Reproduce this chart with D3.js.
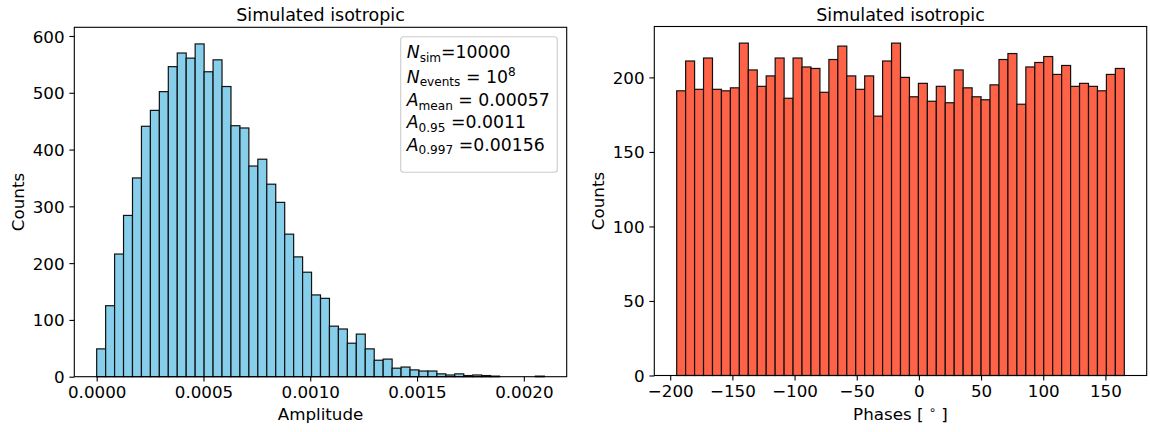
<!DOCTYPE html>
<html>
<head>
<meta charset="utf-8">
<script src="https://cdn.jsdelivr.net/npm/d3@7"></script>
<style>
  html, body { margin: 0; padding: 0; background: #fff; }
  svg { display: block; }
  text { font-family: "DejaVu Sans", sans-serif; fill: #000; }
</style>
</head>
<body>
<svg id="chart" width="1150" height="432"></svg>
<script>
// ---------------- data ----------------
const chartTitles = ["Simulated isotropic", "Simulated isotropic"];
const ampBinRange = [0, 0.002096];
const ampCounts = [49,125,216,284,350,441,469,502,546,570,
                   561,586,537,558,511,442,438,371,383,339,
                   307,251,211,184,144,138,89,84,59,75,
                   49,29,31,15,17,12,10,10,5,3,
                   5,2,3,2,1,0,0,0,0,1];
const ampXTicks = [0, 0.0005, 0.0010, 0.0015, 0.0020];
const ampXTickLabels = ["0.0000", "0.0005", "0.0010", "0.0015", "0.0020"];
const ampYTicks = [0, 100, 200, 300, 400, 500, 600];

const phaseBinRange = [-194.8, 165.2];
const phaseCounts = [191,211,192,213,192,191,193,223,205,194,
                     201,213,186,213,207,206,190,212,221,201,
                     192,201,174,211,223,200,187,196,184,194,
                     183,205,193,187,185,195,212,216,182,207,
                     210,214,202,208,194,196,194,191,202,206];
const phaseXTicks = [-200, -150, -100, -50, 0, 50, 100, 150];
const phaseYTicks = [0, 50, 100, 150, 200];

const statLines = [
  {sym: "N", sub: "sim", rest: "=10000"},
  {sym: "N", sub: "events", rest: " = 10", sup: "8"},
  {sym: "A", sub: "mean", rest: " = 0.00057"},
  {sym: "A", sub: "0.95", rest: " =0.0011"},
  {sym: "A", sub: "0.997", rest: " =0.00156"}
];

// ---------------- drawing ----------------
const svg = d3.select("#chart");
const FS = 16.7;
const LFS = 17.3;
const minus = s => String(s).replace("-", "\u2212");

function panel(cfg) {
  const {left, right, top, bottom, counts, binRange, fill, xTicks, xTickFmt, yTicks, title, xlabelNode, ylabelX} = cfg;
  const n = counts.length;
  const w = (binRange[1] - binRange[0]) / n;
  const edges = d3.range(n + 1).map(i => binRange[0] + i * w);
  const span = binRange[1] - binRange[0];
  const x = d3.scaleLinear().domain([binRange[0] - 0.05 * span, binRange[1] + 0.05 * span]).range([left, right]);
  const ymax = d3.max(counts) * 1.05;
  const y = d3.scaleLinear().domain([0, ymax]).range([bottom, top]);

  const g = svg.append("g");
  g.selectAll("rect.bar").data(counts).join("rect")
    .attr("class", "bar")
    .attr("x", (d, i) => x(edges[i]))
    .attr("width", (d, i) => x(edges[i + 1]) - x(edges[i]))
    .attr("y", d => y(d))
    .attr("height", d => y(0) - y(d))
    .attr("fill", fill)
    .attr("stroke", "#111")
    .attr("stroke-width", 1.2);

  // frame
  g.append("rect").attr("x", left).attr("y", top).attr("width", right - left).attr("height", bottom - top)
    .attr("fill", "none").attr("stroke", "#000").attr("stroke-width", 1.1);

  const xa = g.append("g").attr("transform", `translate(0,${bottom})`)
    .call(d3.axisBottom(x).tickValues(xTicks).tickFormat(xTickFmt).tickSize(4.9).tickPadding(4.9));
  const ya = g.append("g").attr("transform", `translate(${left},0)`)
    .call(d3.axisLeft(y).tickValues(yTicks).tickSize(4.9).tickPadding(4.9));
  [xa, ya].forEach(a => {
    a.select(".domain").remove();
    a.selectAll(".tick line").attr("stroke", "#000").attr("stroke-width", 1.1);
    a.selectAll(".tick text").attr("font-size", FS).attr("font-family", "DejaVu Sans").attr("fill", "#000");
  });
  xa.selectAll(".tick text").attr("dy", null).attr("y", 21.6);
  ya.selectAll(".tick text").attr("dy", "0.36em");

  g.append("text").attr("x", (left + right) / 2).attr("y", 20.7).attr("text-anchor", "middle")
    .attr("font-size", 17.5).text(title);

  g.append("text").attr("transform", `translate(${ylabelX},${(top + bottom) / 2}) rotate(-90)`)
    .attr("text-anchor", "middle").attr("font-size", 16.7).text("Counts");

  const xl = g.append("text").attr("x", (left + right) / 2).attr("y", 420).attr("text-anchor", "middle")
    .attr("font-size", 16.7);
  xlabelNode(xl);
  return {g, x, y};
}

panel({
  left: 74.3, right: 566.7, top: 27.3, bottom: 376.7,
  counts: ampCounts, binRange: ampBinRange, fill: "#87CEEB",
  xTicks: ampXTicks, xTickFmt: (d, i) => ampXTickLabels[i], yTicks: ampYTicks,
  title: chartTitles[0], ylabelX: 24,
  xlabelNode: t => t.text("Amplitude")
});

panel({
  left: 654.3, right: 1146.7, top: 26.5, bottom: 375.5,
  counts: phaseCounts, binRange: phaseBinRange, fill: "#FF6347",
  xTicks: phaseXTicks, xTickFmt: d => minus(d), yTicks: phaseYTicks,
  title: chartTitles[1], ylabelX: 604,
  xlabelNode: t => {
    t.append("tspan").text("Phases [ ");
    t.append("tspan").attr("font-size", 11.7).attr("dy", -6.5).text("\u2218");
    t.append("tspan").attr("dy", 6.5).text(" ]");
  }
});

// stats box
const box = svg.append("g");
box.append("rect").attr("x", 400.7).attr("y", 36.7).attr("width", 156.6).attr("height", 135.6)
  .attr("rx", 3).attr("fill", "#fff").attr("fill-opacity", 0.8)
  .attr("stroke", "#cccccc").attr("stroke-width", 1.1);
const baselines = [58.3, 82.5, 106, 128.3, 150.6];
statLines.forEach((L, i) => {
  const t = box.append("text").attr("x", 406.7).attr("y", baselines[i]).attr("font-size", LFS);
  t.append("tspan").attr("font-style", "italic").text(L.sym);
  t.append("tspan").attr("font-size", LFS * 0.7).attr("dy", 3.6).text(L.sub);
  t.append("tspan").attr("dy", -3.6).text(L.rest);
  if (L.sup) t.append("tspan").attr("font-size", LFS * 0.7).attr("dy", -6.5).text(L.sup);
});
</script>
</body>
</html>
